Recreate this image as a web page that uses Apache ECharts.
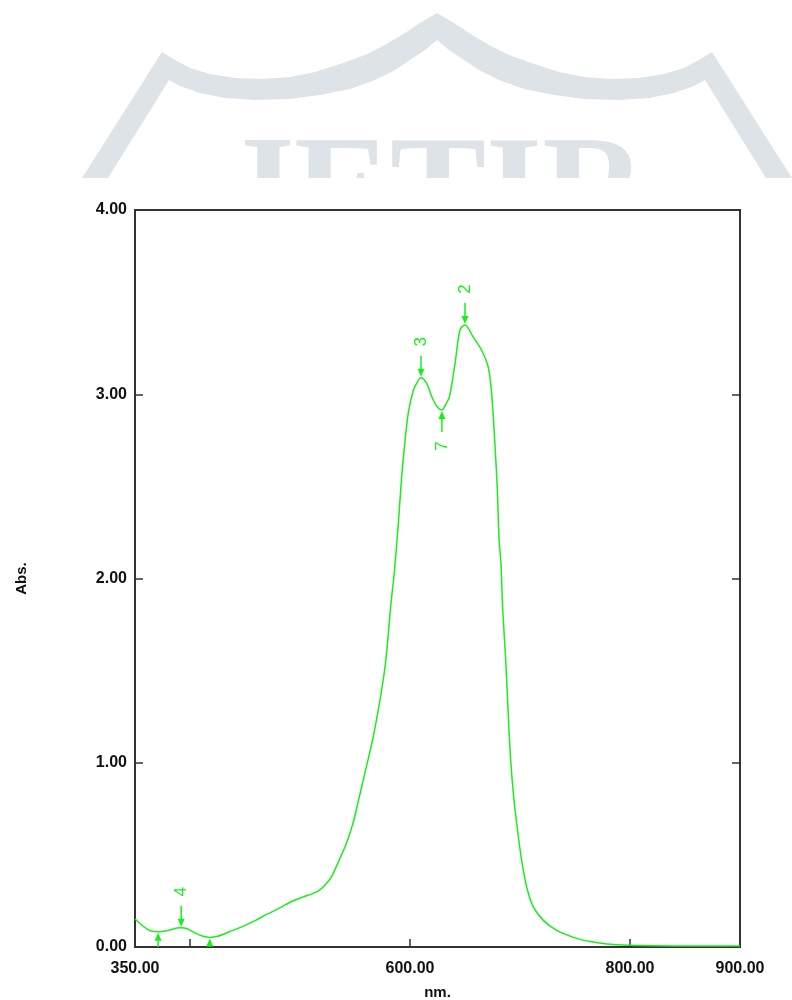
<!DOCTYPE html>
<html><head><meta charset="utf-8">
<script src="https://cdn.jsdelivr.net/npm/echarts@6/dist/echarts.min.js"></script>
<style>html,body{margin:0;padding:0;background:#fff}#c{width:792px;height:1000px}</style>
</head><body><div id="c"></div>
<script>
// Spectrum data (wavelength nm, absorbance)
const wavelength = [350,358,364,371,380,388,392,398,405,412,418,425,436,448,460,470,479,487,494,503,512,518,524,529,533,537,541,545,549,553,557.5,562,566.6,572.7,577.3,580.3,582.7,585.7,589.4,592.4,595.5,598.5,603,607,610,615,621,625,629,633,636,641,645.5,650,657.5,665,671,674,677,679.4,681,682.7,684.3,687,689.4,691.5,694.5,698.5,701.5,706,712,721,733,751.5,765,779,798.5,850,900];
const absorbance = [0.152,0.11,0.088,0.083,0.09,0.103,0.105,0.098,0.075,0.058,0.052,0.058,0.083,0.112,0.146,0.178,0.204,0.230,0.251,0.272,0.291,0.310,0.345,0.385,0.436,0.49,0.544,0.61,0.69,0.79,0.906,1.02,1.141,1.34,1.52,1.70,1.865,2.03,2.30,2.55,2.75,2.90,3.02,3.07,3.09,3.06,2.97,2.93,2.915,2.95,2.99,3.17,3.35,3.376,3.31,3.24,3.15,3.02,2.75,2.48,2.21,2.08,1.83,1.56,1.25,1.015,0.80,0.60,0.47,0.327,0.219,0.146,0.092,0.047,0.028,0.016,0.01,0.006,0.005];

// Peak / valley pick markers
const markerNm = [392, 610, 650, 629, 371, 418];
const markerAbs = [0.105, 3.09, 3.376, 2.915, 0.083, 0.052];
const markerLabel = ['4', '3', '2', '7', '', ''];
const markerDir = ['down', 'down', 'down', 'up', 'up', 'up'];

const xLabelValues = [350, 600, 800, 900];
const xTickValues = [400, 600, 800];

const lineData = wavelength.map((w, i) => [w, absorbance[i]]);
const markerData = markerNm.map((w, i) => [w, markerAbs[i], i]);

const GREEN = '#1aee1a';
const AXIS = '#333';

// watermark band (decorative)
function mirror(pts){ return pts.map(p => [874 - p[0], p[1]]).reverse(); }
const outerLeft = [[82,178],[162,52],[175,60],[190,68],[210,74],[235,78],[262,79],[290,77],[315,72],[340,64],[365,55],[385,45],[405,33],[420,23],[437,13]];
const innerLeft = [[108,178],[169,80],[180,86],[200,93],[225,98],[255,100],[290,99],[320,95],[350,89],[375,80],[395,70],[410,60],[425,50],[437,40]];
const outerRight = mirror(outerLeft.slice(0, -1));
const innerRight = mirror(innerLeft.slice(0, -1));
const bandPts = outerLeft.concat(outerRight, innerRight.slice().reverse(), innerLeft.slice().reverse());

const chart = echarts.init(document.getElementById('c'), null, {renderer: 'canvas'});
chart.setOption({
  animation: false,
  backgroundColor: '#fff',
  graphic: [
    {type: 'polygon', z: -10, shape: {points: bandPts}, style: {fill: '#dde3e7'}},
    {type: 'text', z: -10, left: 222, top: 126, style: {text: 'JETIR', font: 'bold 144px "Liberation Serif"', fill: '#dde3e7'}},
    {type: 'rect', z: -5, shape: {x: 0, y: 178, width: 792, height: 822}, style: {fill: '#fff'}}
  ],
  grid: {left: 135, right: 52, top: 210, bottom: 53, outerBoundsMode: 'none', containLabel: false, show: true, borderColor: AXIS, borderWidth: 2, backgroundColor: 'transparent', z: 3},
  xAxis: {
    type: 'value', min: 350, max: 900, z: 3,
    name: 'nm.', nameLocation: 'middle', nameGap: 38,
    nameTextStyle: {fontFamily: 'Liberation Sans', fontWeight: 'bold', fontSize: 15, color: '#111'},
    axisLine: {show: true, lineStyle: {color: AXIS, width: 2}},
    axisTick: {show: true, inside: true, length: 8, customValues: xTickValues, lineStyle: {color: AXIS, width: 1.5}},
    axisLabel: {customValues: xLabelValues, margin: 14, fontFamily: 'Liberation Sans', fontWeight: 'bold', fontSize: 16, color: '#111', formatter: v => v.toFixed(2)},
    splitLine: {show: false}
  },
  yAxis: [{
    type: 'value', min: 0, max: 4, interval: 1, z: 3,
    name: 'Abs.', nameLocation: 'middle', nameGap: 106, nameRotate: 90,
    nameTextStyle: {fontFamily: 'Liberation Sans', fontWeight: 'bold', fontSize: 15, color: '#111'},
    axisLine: {show: true, lineStyle: {color: AXIS, width: 2}},
    axisTick: {show: true, inside: true, length: 8, lineStyle: {color: AXIS, width: 1.5}},
    axisLabel: {margin: 8, fontFamily: 'Liberation Sans', fontWeight: 'bold', fontSize: 16, color: '#111', formatter: v => v.toFixed(2)},
    splitLine: {show: false}
  }, {
    type: 'value', min: 0, max: 4, interval: 1, position: 'right', z: 3,
    axisLine: {show: true, lineStyle: {color: AXIS, width: 2}},
    axisTick: {show: true, inside: true, length: 8, lineStyle: {color: AXIS, width: 1.5}},
    axisLabel: {show: false},
    splitLine: {show: false}
  }],
  series: [{
    type: 'line', data: lineData, showSymbol: false, smooth: 0.3, z: 4,
    lineStyle: {color: GREEN, width: 1.5}
  }, {
    type: 'custom', data: markerData, clip: true, z: 5,
    renderItem: function (params, api) {
      const idx = api.value(2);
      const p = api.coord([api.value(0), api.value(1)]);
      const s = markerDir[idx] === 'down' ? -1 : 1;
      const children = [
        {type: 'line', shape: {x1: p[0], y1: p[1] + s * 22, x2: p[0], y2: p[1] + s * 6}, style: {stroke: GREEN, lineWidth: 1.5}},
        {type: 'polygon', shape: {points: [[p[0] - 3.5, p[1] + s * 9], [p[0] + 3.5, p[1] + s * 9], [p[0], p[1] + s * 1]]}, style: {fill: GREEN}}
      ];
      if (markerLabel[idx]) {
        children.push({type: 'text', x: p[0], y: p[1] + s * 36, rotation: Math.PI / 2,
          style: {text: markerLabel[idx], font: '17px "Liberation Sans"', fill: GREEN, align: 'center', verticalAlign: 'middle'}});
      }
      return {type: 'group', children: children};
    }
  }]
});
</script></body></html>
